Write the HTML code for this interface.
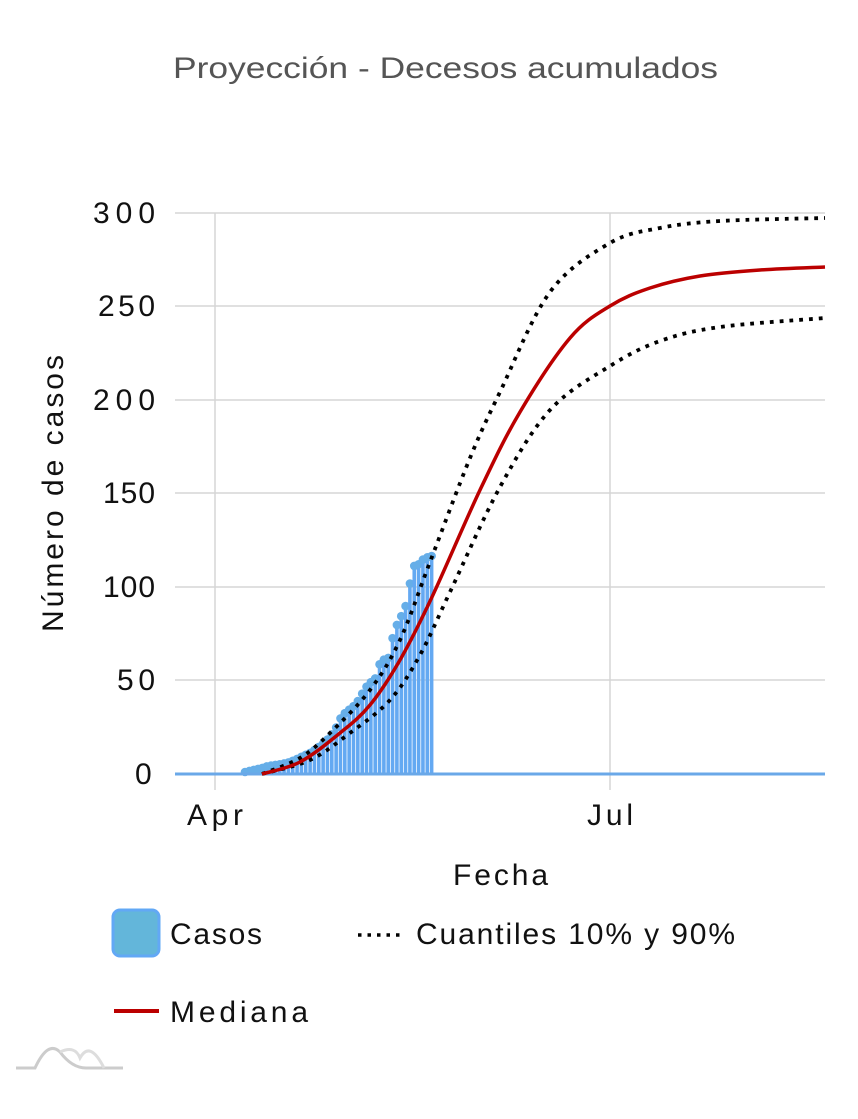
<!DOCTYPE html>
<html><head><meta charset="utf-8"><style>
body{margin:0;background:#fff;}
svg text{font-family:"Liberation Sans",sans-serif;}
</style></head><body>
<svg id="s" width="858" height="1114" viewBox="0 0 858 1114" xmlns="http://www.w3.org/2000/svg">
<text x="173" y="78" font-size="30" fill="#555" textLength="545" lengthAdjust="spacingAndGlyphs">Proyección - Decesos acumulados</text>
<g stroke="#d6d6d6" stroke-width="1.5">
<line x1="175" y1="213" x2="825" y2="213"/><line x1="175" y1="306" x2="825" y2="306"/>
<line x1="175" y1="400" x2="825" y2="400"/><line x1="175" y1="493" x2="825" y2="493"/>
<line x1="175" y1="587" x2="825" y2="587"/><line x1="175" y1="680" x2="825" y2="680"/>
<line x1="215" y1="213" x2="215" y2="790"/><line x1="610" y1="213" x2="610" y2="790"/>
</g>
<g font-size="30" fill="#111" lengthAdjust="spacingAndGlyphs">
<text x="93" y="223" textLength="62">300</text><text x="98" y="316" textLength="57">250</text><text x="93" y="410" textLength="62">200</text>
<text x="103" y="503" textLength="52">150</text><text x="103" y="597" textLength="52">100</text><text x="117" y="690" textLength="38">50</text><text x="135" y="784" textLength="20">0</text>
<text x="187" y="825" textLength="56">Apr</text><text x="587" y="825" textLength="46">Jul</text>
<text x="453" y="885" textLength="95">Fecha</text>
<text transform="translate(63,632) rotate(-90)" textLength="277">Número de casos</text>
</g>
<g id="bars"></g>
<line x1="175" y1="774" x2="825" y2="774" stroke="#6aa8e8" stroke-width="3"/>
<g id="curves"></g>
<rect x="113" y="910" width="46" height="46" rx="7" fill="#63b6da" stroke="#62a8f5" stroke-width="3"/>
<g font-size="30" fill="#111" lengthAdjust="spacingAndGlyphs">
<text x="170" y="944" textLength="92">Casos</text>
<text x="416" y="944" textLength="319">Cuantiles 10% y 90%</text>
<text x="170" y="1022" textLength="138">Mediana</text>
</g>
<line x1="358" y1="935" x2="400" y2="935" stroke="#000" stroke-width="3.5" stroke-dasharray="3.5 6"/>
<line x1="114" y1="1011" x2="159" y2="1011" stroke="#b00" stroke-width="4"/>
<path d="M16 1068 L35 1068 Q48 1040 60 1052 Q72 1068 86 1068 L123 1068" fill="none" stroke="#ccc" stroke-width="3"/>
<path d="M60 1052 Q75 1045 80 1058 Q90 1040 104 1068" fill="none" stroke="#ddd" stroke-width="3"/>
</svg>
<script>
function interp(pts,x){for(var i=0;i<pts.length-1;i++){if(x<=pts[i+1][0]){var t=(x-pts[i][0])/(pts[i+1][0]-pts[i][0]);return pts[i][1]+t*(pts[i+1][1]-pts[i][1]);}}return pts[pts.length-1][1];}
var tops=[[245,772],[262,768],[268,766],[275,765],[282,764],[290,762],[297,759],[303,756],[310,753],[316,749],[320,746],[325,742],[330,737],[335,730],[340,719],[345,713],[350,709],[355,705],[360,698],[364,690],[367,686],[372,681],[377,677],[380,662],[385,659],[388,659],[392,640],[396,627],[400,618],[404,612],[408,597],[410,583],[414,566],[418,565],[422,560],[426,558],[430,556],[432,556]];
var b=document.getElementById("bars"),h="";
for(var x=245;x<=432;x+=4.34){var y=interp(tops,x);
h+='<rect x="'+(x-1.8)+'" y="'+y+'" width="3.6" height="'+(774-y)+'" fill="#64a9f2"/>';
h+='<circle cx="'+x+'" cy="'+y+'" r="4.3" fill="#66aee8"/>';}
b.innerHTML=h;
function cr(p){var d="M"+p[0][0]+" "+p[0][1];for(var i=0;i<p.length-1;i++){var p0=p[Math.max(0,i-1)],p1=p[i],p2=p[i+1],p3=p[Math.min(p.length-1,i+2)];
d+=" C"+(p1[0]+(p2[0]-p0[0])/6)+" "+(p1[1]+(p2[1]-p0[1])/6)+" "+(p2[0]-(p3[0]-p1[0])/6)+" "+(p2[1]-(p3[1]-p1[1])/6)+" "+p2[0]+" "+p2[1];}return d;}
var med=[[262,774],[300,762],[340,733],[370,705],[400,660],[432,597],[480,490],[520,412],[570,338],[610,306],[650,288],[700,276],[760,270],[825,267]];
var up=[[262,774],[300,758],[330,733],[370,690],[400,640],[430,562],[470,458],[500,392],[550,292],[610,243],[660,228],[720,221],[825,218]];
var lo=[[262,774],[310,760],[350,733],[390,700],[420,655],[450,592],[500,487],[550,410],[610,366],[660,341],[720,327],[825,318]];
var c=document.getElementById("curves");
c.innerHTML='<path d="'+cr(up)+'" fill="none" stroke="#000" stroke-width="3.8" stroke-dasharray="3.8 6"/>'+
'<path d="'+cr(lo)+'" fill="none" stroke="#000" stroke-width="3.8" stroke-dasharray="3.8 6"/>'+
'<path d="'+cr(med)+'" fill="none" stroke="#b00" stroke-width="3.5"/>';
</script>
</body></html>
